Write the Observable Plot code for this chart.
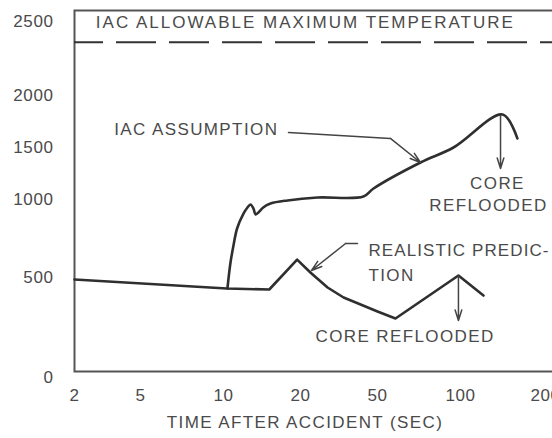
<!DOCTYPE html>
<html><head><meta charset="utf-8">
<script src="https://cdn.jsdelivr.net/npm/d3@7"></script>
<script src="https://cdn.jsdelivr.net/npm/@observablehq/plot@0.6"></script>
<style>
body{margin:0;background:#fff;}
#chart{width:552px;height:438px;overflow:hidden;}
</style>
</head><body><div id="chart"></div>
<script>
// axis ticks
const xTicks = [2, 5, 10, 20, 50, 100, 200];
const yTicks = [0, 500, 1000, 1500, 2000, 2500];

// Realistic prediction (time s, temperature)
const realisticTime = [2, 10.3, 15.1, 19.4, 22.5, 27.6, 33.4, 40.9, 50, 58.1, 98.3, 120.6];
const realisticTemp = [490, 445, 440, 615, 532, 450, 400, 365, 330, 295, 513, 410];

// IAC assumption (branches off the common curve)
const iacTime = [10.36, 10.65, 10.94, 11.3, 11.97, 12.41, 12.75, 13.1, 13.34, 13.7, 14.3, 15.27, 17.8, 24.5, 42.3, 47.7, 71.6, 94.3, 140.9, 159];
const iacTemp = [445, 596, 705, 814, 910, 949, 968, 942, 904, 917, 949, 974, 994, 1019, 1029, 1106, 1356, 1500, 1817, 1587];

// allowable maximum temperature
const iacLimit = 2360;

// annotation labels
const labelText = ["IAC ALLOWABLE MAXIMUM TEMPERATURE", "IAC ASSUMPTION", "CORE", "REFLOODED", "REALISTIC PREDIC-", "TION", "CORE REFLOODED"];
const labelTime = [2.69, 3.47, 135.2, 125.6, 44.9, 44.9, 23.9];
const labelTemp = [2493, 1673, 1154, 961, 673, 513, 205];
const labelAnchor = ["start", "start", "middle", "middle", "start", "start", "start"];

// leader lines (polyline part)
const iacLeaderTime = [17.95, 55.7];
const iacLeaderTemp = [1644, 1587];
const realLeaderTime = [39.4, 34.2];
const realLeaderTemp = [718, 718];

// arrows
const arrowX1 = [55.7, 34.2, 138.6, 98.3];
const arrowY1 = [1587, 718, 1808, 513];
const arrowX2 = [71.6, 22.8, 138.6, 98.3];
const arrowY2 = [1356, 545, 1298, 285];

const xTitle = "TIME AFTER ACCIDENT (SEC)";

const realistic = realisticTime.map((t, i) => ({time: t, temp: realisticTemp[i]}));
const iac = iacTime.map((t, i) => ({time: t, temp: iacTemp[i]}));
const labels = labelText.map((s, i) => ({text: s, time: labelTime[i], temp: labelTemp[i], anchor: labelAnchor[i]}));
const iacLeader = iacLeaderTime.map((t, i) => ({time: t, temp: iacLeaderTemp[i]}));
const realLeader = realLeaderTime.map((t, i) => ({time: t, temp: realLeaderTemp[i]}));
const arrows = arrowX1.map((x, i) => ({x1: x, y1: arrowY1[i], x2: arrowX2[i], y2: arrowY2[i]}));

const lineColor = "#2f2f2f";

const chart = Plot.plot({
  width: 552,
  height: 438,
  marginTop: 10,
  marginBottom: 67,
  marginLeft: 74,
  marginRight: -6,
  style: {fontFamily: "Liberation Sans, Arial, sans-serif", fontSize: "17px", color: "#4a4a4a", background: "#fff", letterSpacing: "1.4px"},
  x: {type: "log", domain: xTicks, range: [74, 140, 223, 300, 377, 460, 545], ticks: xTicks, tickFormat: d => String(d), tickSize: 0, tickPadding: 17, label: null},
  y: {type: "linear", domain: yTicks, range: [377, 277, 199, 147, 95, 21], ticks: yTicks, tickFormat: d => String(d), tickSize: 0, tickPadding: 21, label: null},
  marks: [
    Plot.frame({stroke: "#555", strokeWidth: 2}),
    Plot.ruleY([iacLimit], {stroke: "#333", strokeWidth: 2, strokeDasharray: "40,13", strokeDashoffset: 11}),
    Plot.line(realistic, {x: "time", y: "temp", stroke: lineColor, strokeWidth: 2.6, strokeLinejoin: "round"}),
    Plot.line(iac, {x: "time", y: "temp", stroke: lineColor, strokeWidth: 2.6, strokeLinejoin: "round", curve: "catmull-rom"}),
    Plot.line(iacLeader, {x: "time", y: "temp", stroke: "#444", strokeWidth: 1.5}),
    Plot.line(realLeader, {x: "time", y: "temp", stroke: "#444", strokeWidth: 1.5}),
    Plot.arrow(arrows, {x1: "x1", y1: "y1", x2: "x2", y2: "y2", stroke: "#444", strokeWidth: 1.5, headLength: 11, headAngle: 35}),
    Plot.text(labels.filter(d => d.anchor === "start"), {x: "time", y: "temp", text: "text", textAnchor: "start", lineAnchor: "middle"}),
    Plot.text(labels.filter(d => d.anchor === "middle"), {x: "time", y: "temp", text: "text", textAnchor: "middle", lineAnchor: "middle"}),
    Plot.text([xTitle], {x: 21.1, frameAnchor: "bottom", dy: 51, lineAnchor: "middle", text: d => d})
  ]
});
document.getElementById("chart").appendChild(chart);
d3.select(chart).selectAll('g[aria-label$="tick label"]').style("letter-spacing", "0.6px");
d3.select(chart).selectAll("text").filter(function(){ return this.textContent.startsWith("IAC ALLOW"); }).style("letter-spacing", "2px");
d3.select(chart).selectAll("text").filter(function(){ return this.textContent.startsWith("REALISTIC"); }).style("letter-spacing", "1.1px");
</script>
</body></html>
